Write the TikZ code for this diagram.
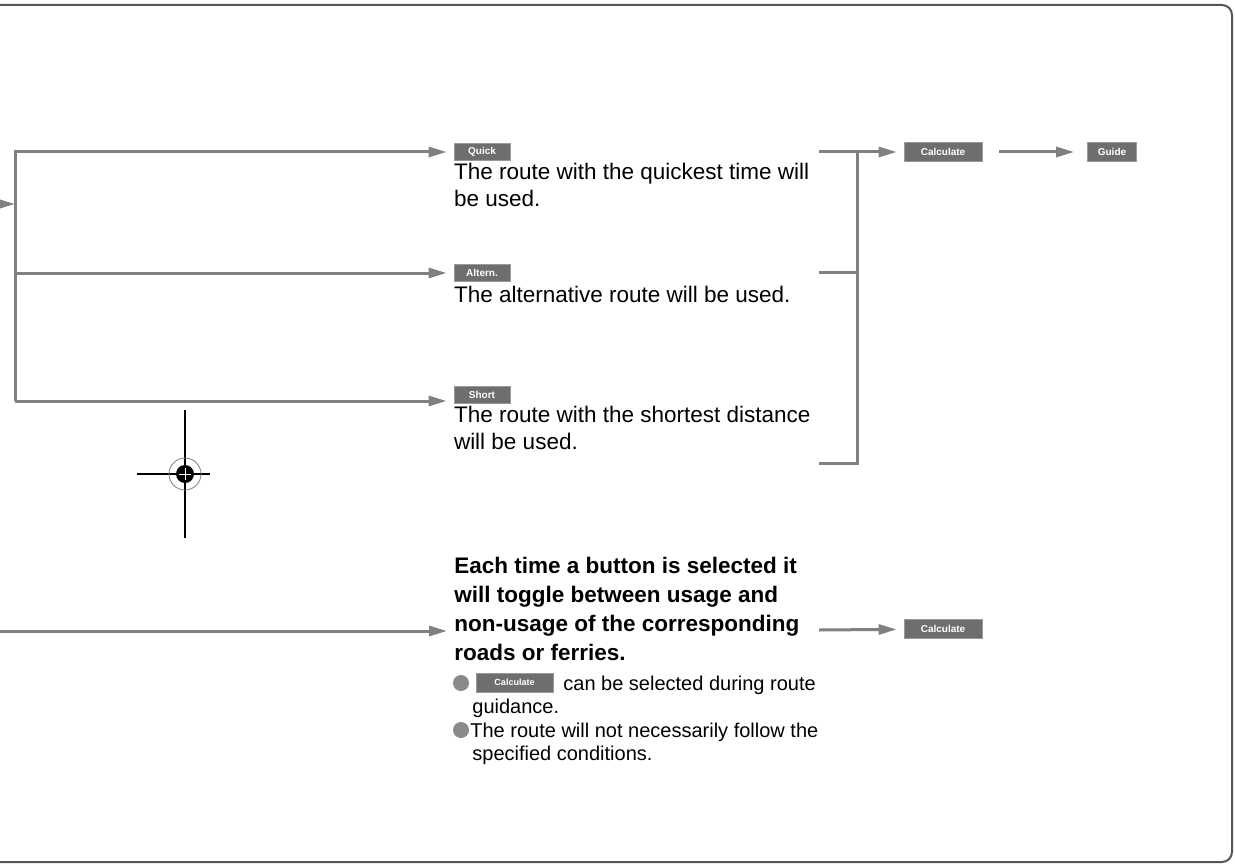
\documentclass[tikz,border=0pt]{standalone}
\usepackage{fontspec}
\setmainfont{Liberation Sans}
\usepackage{tikz}
\usetikzlibrary{positioning,arrows.meta,calc}
\definecolor{flowgray}{HTML}{808080}
\definecolor{btngray}{HTML}{6E6E6E}
\definecolor{btnedge}{HTML}{9A9A9A}
\definecolor{framegray}{HTML}{555555}
\definecolor{dotgray}{HTML}{8A8A8A}

\begin{document}
\begin{tikzpicture}[x=0.5pt,y=-0.5pt,
  btn/.style={fill=btngray,draw=btnedge,line width=0.4pt,text=white,font=\fontsize{5}{6}\selectfont\bfseries,inner sep=0pt,minimum height=8.5pt,minimum width=28pt},
  desc/.style={anchor=north west,inner sep=0pt,align=left,font=\fontsize{11.25}{13.5}\selectfont},
  bold/.style={desc,font=\fontsize{11.25}{14.5}\selectfont\bfseries},
  note/.style={anchor=base west,inner sep=0pt,font=\fontsize{10}{11.5}\selectfont},
  flowline/.style={draw=flowgray,line width=1.5pt},
  flowarrow/.style={flowline,-{Triangle[length=9pt,width=5pt]},shorten >=3.5pt},
  dotmark/.style={circle,fill=dotgray,inner sep=0pt,minimum size=8pt}]
\useasboundingbox (0,0) rectangle (1235,866);
\clip (0,0) rectangle (1235,866);
% frame
\draw[framegray,line width=1pt,rounded corners=5pt] (-20,5) rectangle (1232,862);

% route choices
\node[btn] (quick) at (482,152) {Quick};
\node[desc,below=0.75pt of quick.south west,anchor=north west] (quicktxt) {The route with the quickest time will\\be used.};
\node[btn] (altern) at (482,273) {Altern.};
\node[desc,below=1.75pt of altern.south west,anchor=north west] (alterntxt) {The alternative route will be used.};
\node[btn] (short) at (482,395) {Short};
\node[desc,below=0.75pt of short.south west,anchor=north west] (shorttxt) {The route with the shortest distance\\will be used.};

\coordinate (inL) at (-30,204);
\coordinate (lt) at (15,152);
\coordinate (lb) at (15,401);
\draw[flowarrow,shorten >=0pt] (inL) -- (inL -| lt);
\draw[flowarrow] (lb) -- (lt) -- (quick);
\draw[flowarrow] (lt |- altern) -- (altern);
\draw[flowarrow] (lb) -- (lb -| short.west);

% join and calculate
\node[btn,minimum width=39pt,minimum height=9.5pt] (calcA) at (943,152) {Calculate};
\node[btn,minimum width=24.5pt,minimum height=9.5pt] (guide) at (1112,152) {Guide};
\coordinate (qR) at (819,152);
\coordinate (aR) at (819,272);
\coordinate (sR) at (819,463);
\coordinate (jn) at (857,152);
\draw[flowline] (sR) -- (sR -| jn) -- (jn);
\draw[flowline] (aR) -- (aR -| jn);
\draw[flowarrow] (qR) -- (calcA);
\draw[flowarrow,shorten <=8.5pt,shorten >=6.5pt] (calcA) -- (guide);

% map mark
\coordinate (target) at (185,474);
\draw[black,line width=0.6pt] ($(target)+(0,-64)$) -- ($(target)+(0,64)$) ($(target)+(-48,0)$) -- ($(target)+(25,0)$);
\draw[gray,line width=0.4pt] (target) circle[radius=8pt];
\fill[black] (target) circle[radius=4.5pt];
\draw[white,line width=0.3pt] ($(target)+(-6,0)$) -- ($(target)+(6,0)$) ($(target)+(0,-6)$) -- ($(target)+(0,6)$);

% avoid roads
\node[bold] (toggle) at (454,557) {Each time a button is selected it\\will toggle between usage and\\non-usage of the corresponding\\roads or ferries.};
\coordinate (tgIn) at (-30,631);
\coordinate (tgOut) at (819,630);
\node[btn,minimum width=39pt,minimum height=9.5pt] (calcB) at (943,629) {Calculate};
\draw[flowarrow] (tgIn) -- (tgIn -| toggle.west);
\draw[flowarrow] (tgOut) -- (calcB);

% notes
\node[dotmark] (dot1) at (461,683) {};
\node[btn,minimum width=38.5pt,minimum height=9.5pt,font=\fontsize{4.5}{5}\selectfont\bfseries] (calcC) at (514.5,682.5) {Calculate};
\node[note] (note1) at (563,690) {can be selected during route};
\node[note] (note1b) at (472,713) {guidance.};
\node[dotmark] (dot2) at (461,730) {};
\node[note] (note2) at (470,737) {The route will not necessarily follow the};
\node[note] (note2b) at (472,760) {specified conditions.};
\end{tikzpicture}
\end{document}
